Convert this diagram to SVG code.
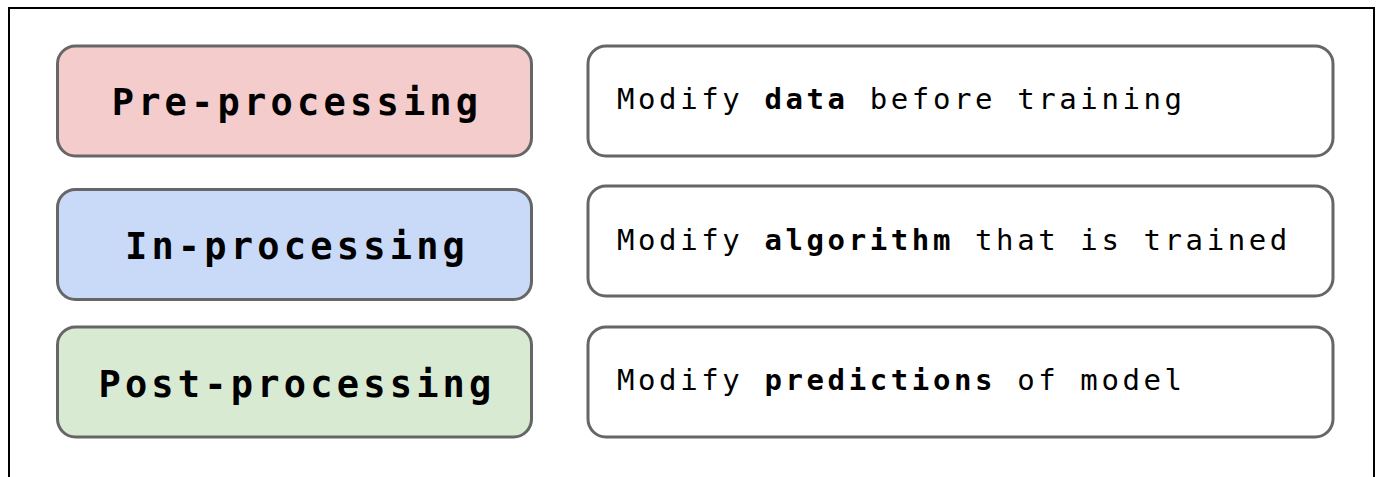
<svg xmlns="http://www.w3.org/2000/svg" width="1380" height="477" viewBox="0 0 1380 477">
  <style>
    .frame { fill: none; stroke: #000; stroke-width: 2; }
    .box { stroke: #666666; stroke-width: 3; }
    .stage { font-family: "DejaVu Sans Mono", "Liberation Mono", monospace; font-weight: bold; font-size: 37px; letter-spacing: 4.2px; fill: #000; text-anchor: middle; }
    .desc { font-family: "DejaVu Sans Mono", "Liberation Mono", monospace; font-size: 29px; letter-spacing: 3.6px; fill: #000; }
    .desc .b { font-weight: bold; }
  </style>
  <rect width="1380" height="477" fill="#fff"/>
  <path class="frame" d="M9 477 V8 H1374 V477"/>

  <g id="pre-processing">
    <rect class="box" x="57.5" y="46" width="474" height="110" rx="18" fill="#f4cccc"/>
    <text class="stage" x="297" y="115">Pre-processing</text>
  </g>
  <g id="in-processing">
    <rect class="box" x="57.5" y="189.5" width="474" height="110" rx="18" fill="#c9daf8"/>
    <text class="stage" x="297" y="259">In-processing</text>
  </g>
  <g id="post-processing">
    <rect class="box" x="57.5" y="327" width="474" height="110" rx="18" fill="#d9ead3"/>
    <text class="stage" x="297" y="397">Post-processing</text>
  </g>

  <g id="pre-desc">
    <rect class="box" x="588" y="46" width="745" height="110" rx="18" fill="#fff"/>
    <text class="desc" x="617" y="109">Modify <tspan class="b">data</tspan> before training</text>
  </g>
  <g id="in-desc">
    <rect class="box" x="588" y="186" width="745" height="110" rx="18" fill="#fff"/>
    <text class="desc" x="617" y="250">Modify <tspan class="b">algorithm</tspan> that is trained</text>
  </g>
  <g id="post-desc">
    <rect class="box" x="588" y="327" width="745" height="110" rx="18" fill="#fff"/>
    <text class="desc" x="617" y="390">Modify <tspan class="b">predictions</tspan> of model</text>
  </g>

  <g id="connectors"></g>
</svg>
